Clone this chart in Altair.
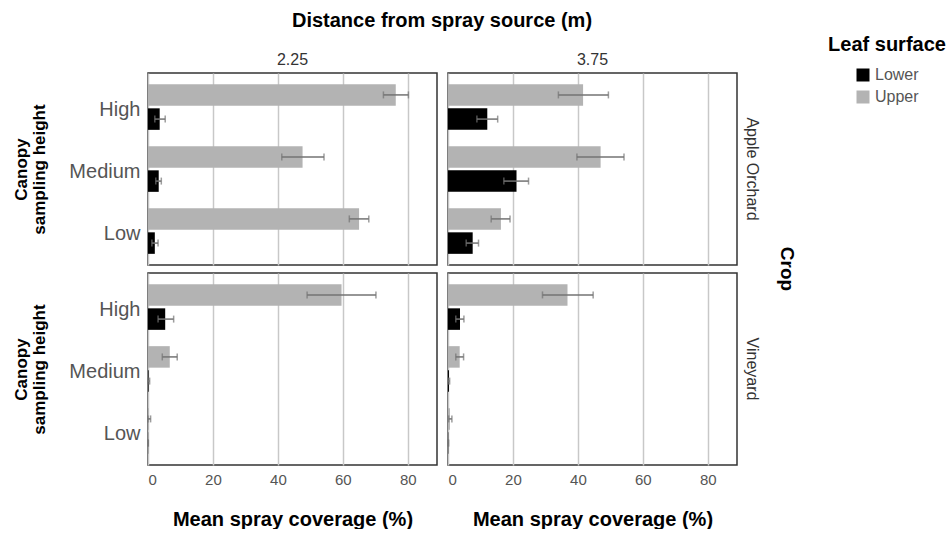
import altair as alt
import pandas as pd

# Mean spray coverage (%) with lower/upper error limits, per crop, distance, canopy height, leaf surface
crops = ["Apple Orchard"] * 12 + ["Vineyard"] * 12
distances = (["2.25"] * 6 + ["3.75"] * 6) * 2
heights = ["High", "High", "Medium", "Medium", "Low", "Low"] * 4
surfaces = ["Upper", "Lower"] * 12

means = [
    76.3, 3.6, 47.6, 3.3, 65.0, 2.1,      # Apple Orchard, 2.25 m
    41.6, 12.1, 47.0, 21.1, 16.3, 7.6,    # Apple Orchard, 3.75 m
    59.6, 5.3, 6.7, 0.2, 0.3, 0.05,       # Vineyard, 2.25 m
    36.8, 3.7, 3.6, 0.3, 0.6, 0.1,        # Vineyard, 3.75 m
]
err_lo = [
    72.5, 2.1, 41.2, 2.4, 62.0, 1.2,
    34.0, 8.9, 39.7, 17.2, 13.3, 5.6,
    49.0, 3.1, 4.4, 0.0, 0.0, 0.0,
    29.1, 2.4, 2.4, 0.1, 0.2, 0.0,
]
err_hi = [
    80.2, 5.3, 54.2, 4.1, 68.0, 3.1,
    49.4, 15.3, 54.2, 24.8, 19.1, 9.4,
    70.2, 7.9, 9.0, 0.5, 0.8, 0.1,
    44.7, 4.9, 4.8, 0.5, 1.2, 0.2,
]

height_order = ["High", "Medium", "Low"]
surface_order = ["Upper", "Lower"]
legend_order = ["Lower", "Upper"]
x_ticks = [0, 20, 40, 60, 80]

df = pd.DataFrame({
    "crop": crops,
    "distance": distances,
    "height": heights,
    "surface": surfaces,
    "mean": means,
    "lo": err_lo,
    "hi": err_hi,
})

FONT = "Liberation Sans"
ERR_COLOR = "#737373"

x_scale = alt.Scale(domain=[0, 89], nice=False, zero=True)
y_enc = alt.Y(
    "height:N",
    sort=height_order,
    scale=alt.Scale(paddingInner=0.263, paddingOuter=0.18),
    axis=alt.Axis(
        title=["Canopy", "sampling height"],
        labelFontSize=20,
        labelColor="#555555",
        labelPadding=6,
        labelOffset=3,
        ticks=False,
        domain=False,
        titleFontSize=17,
        titleFontWeight="bold",
        titleLineHeight=18,
        titlePadding=20,
        titleColor="#000000",
    ),
)
yoff_enc = alt.YOffset(
    "surface:N",
    sort=surface_order,
    scale=alt.Scale(paddingInner=0.11, paddingOuter=0),
)

base = alt.Chart()

bars = base.mark_bar().encode(
    x=alt.X(
        "mean:Q",
        scale=x_scale,
        axis=alt.Axis(
            values=x_ticks,
            title="Mean spray coverage (%)",
            labelFontSize=15,
            labelColor="#555555",
            labelPadding=6,
            ticks=False,
            domain=False,
            grid=True,
            gridColor="#c8c8c8",
            gridWidth=1.5,
            titleFontSize=20,
            titleFontWeight="bold",
            titlePadding=22,
            titleColor="#000000",
        ),
    ),
    y=y_enc,
    yOffset=yoff_enc,
    color=alt.Color(
        "surface:N",
        scale=alt.Scale(domain=legend_order, range=["#000000", "#b3b3b3"]),
        legend=alt.Legend(
            title="Leaf surface",
            orient="none",
            legendX=680,
            legendY=-38,
            padding=0,
            symbolType="square",
            symbolSize=169,
            symbolStrokeWidth=0,
            labelFontSize=16,
            labelColor="#555555",
            titleFontSize=20,
            titleFontWeight="bold",
            titleColor="#000000",
            titleAnchor="middle",
            titlePadding=12,
            rowPadding=6,
        ),
    ),
)

whisker = base.mark_rule(color=ERR_COLOR, strokeWidth=1.5).encode(
    x=alt.X("lo:Q", scale=x_scale),
    x2="hi:Q",
    y=y_enc,
    yOffset=yoff_enc,
)
cap_lo = base.mark_tick(color=ERR_COLOR, thickness=1.5, size=7).encode(
    x=alt.X("lo:Q", scale=x_scale),
    y=y_enc,
    yOffset=yoff_enc,
)
cap_hi = base.mark_tick(color=ERR_COLOR, thickness=1.5, size=7).encode(
    x=alt.X("hi:Q", scale=x_scale),
    y=y_enc,
    yOffset=yoff_enc,
)

panel = alt.layer(bars, whisker, cap_lo, cap_hi, data=df).properties(width=289, height=192)

chart = panel.facet(
    row=alt.Row(
        "crop:N",
        sort=["Apple Orchard", "Vineyard"],
        title="Crop",
        header=alt.Header(
            labelOrient="right",
            labelAngle=90,
            labelFontSize=16,
            labelColor="#333333",
            labelPadding=6,
            titleOrient="right",
            titleAngle=90,
            titleFontSize=19,
            titleFontWeight="bold",
            titlePadding=7,
        ),
    ),
    column=alt.Column(
        "distance:N",
        sort=["2.25", "3.75"],
        title="Distance from spray source (m)",
        header=alt.Header(
            labelOrient="top",
            labelFontSize=16,
            labelColor="#333333",
            labelPadding=4,
            titleOrient="top",
            titleFontSize=20,
            titleFontWeight="bold",
            titlePadding=11,
        ),
    ),
    spacing={"row": 6, "column": 8},
).configure(
    font=FONT
).configure_view(
    stroke="#333333", strokeWidth=1.5
).properties(
    padding={"left": 12, "top": 11, "right": 0, "bottom": 0}
)

chart.save("out.html", embed_options={"renderer": "svg", "actions": False})
